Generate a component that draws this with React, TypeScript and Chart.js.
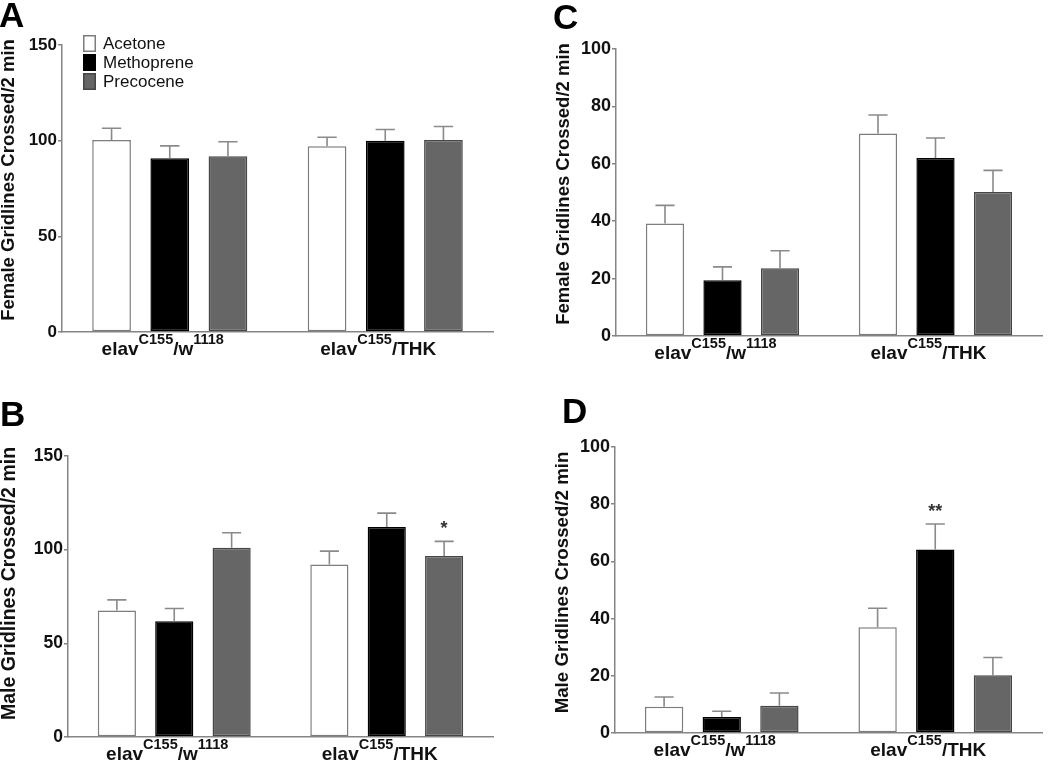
import React, { useEffect, useRef } from 'react';
import { Chart, registerables } from 'chart.js';

Chart.register(...registerables);

const FONT = '"Liberation Sans", Arial, Helvetica, sans-serif';
Chart.defaults.font.family = FONT;

// ---------- data ----------
const seriesNames = ['Acetone', 'Methoprene', 'Precocene'];
const categories = ['elav^{C155}/w^{1118}', 'elav^{C155}/THK'];

const ticks150 = [0, 50, 100, 150];
const ticks100 = [0, 20, 40, 60, 80, 100];

// A: female, 150 scale
const aAcetone = [100.3, 97.1];
const aAcetoneErr = [6.2, 4.7];
const aMethoprene = [90.8, 99.9];
const aMethopreneErr = [6.5, 5.9];
const aPrecocene = [91.9, 100.4];
const aPrecoceneErr = [7.5, 7.0];

// B: male, 150 scale
const bAcetone = [67.5, 92.1];
const bAcetoneErr = [5.7, 7.1];
const bMethoprene = [61.8, 112.1];
const bMethopreneErr = [6.8, 7.4];
const bPrecocene = [101.0, 96.6];
const bPrecoceneErr = [8.0, 7.8];
const bPrecoceneSig = ['', '*'];

// C: female, 100 scale
const cAcetone = [39.2, 70.6];
const cAcetoneErr = [6.3, 6.4];
const cMethoprene = [19.4, 62.0];
const cMethopreneErr = [4.7, 7.0];
const cPrecocene = [23.6, 50.2];
const cPrecoceneErr = [6.1, 7.5];

// D: male, 100 scale
const dAcetone = [9.2, 37.0];
const dAcetoneErr = [3.4, 6.6];
const dMethoprene = [5.6, 64.2];
const dMethopreneErr = [2.0, 8.9];
const dMethopreneSig = ['', '**'];
const dPrecocene = [9.5, 20.2];
const dPrecoceneErr = [4.5, 6.2];

const femaleTitle = 'Female Gridlines Crossed/2 min';
const maleTitle = 'Male Gridlines Crossed/2 min';

// ---------- styles ----------
const seriesFill = ['#ffffff', '#000000', '#666666'];
const seriesBorder = ['#7d7d7d', '#000000', '#464646'];
const AXIS = '#858585';
const ERR = '#8a8a8a';

function parseLabel(s: string) {
  const parts: { t: string; sup: boolean }[] = [];
  const re = /\^\{([^}]*)\}/g;
  let last = 0;
  let m: RegExpExecArray | null;
  while ((m = re.exec(s))) {
    if (m.index > last) parts.push({ t: s.slice(last, m.index), sup: false });
    parts.push({ t: m[1], sup: true });
    last = re.lastIndex;
  }
  if (last < s.length) parts.push({ t: s.slice(last), sup: false });
  return parts;
}

const errorBarPlugin = {
  id: 'errorBars',
  afterDatasetsDraw(chart: any) {
    const ctx = chart.ctx;
    const y = chart.scales.y;
    chart.data.datasets.forEach((ds: any, di: number) => {
      const meta = chart.getDatasetMeta(di);
      meta.data.forEach((bar: any, i: number) => {
        const v = ds.data[i];
        const e = ds.errors[i];
        const x = bar.x;
        const top = y.getPixelForValue(v + e);
        const base = y.getPixelForValue(v);
        const half = bar.width / 4;
        ctx.save();
        ctx.strokeStyle = ERR;
        ctx.lineWidth = 1.6;
        ctx.beginPath();
        ctx.moveTo(x, base);
        ctx.lineTo(x, top);
        ctx.moveTo(x - half, top);
        ctx.lineTo(x + half, top);
        ctx.stroke();
        const s = ds.sig ? ds.sig[i] : '';
        if (s) {
          ctx.fillStyle = '#333';
          ctx.font = `bold 18px ${FONT}`;
          ctx.textAlign = 'center';
          ctx.textBaseline = 'alphabetic';
          ctx.fillText(s, x, top - 7);
        }
        ctx.restore();
      });
    });
  },
};

const insetLegendPlugin = {
  id: 'insetLegend',
  afterDraw(chart: any, _args: any, opts: any) {
    if (!opts || !opts.show) return;
    const ctx = chart.ctx;
    const { left, top } = chart.chartArea;
    const x0 = left + 21;
    let yc = top - 1.5;
    chart.data.datasets.forEach((ds: any) => {
      ctx.save();
      ctx.fillStyle = ds.backgroundColor;
      ctx.fillRect(x0, yc - 8.5, 13, 17);
      ctx.strokeStyle = ds.borderColor;
      ctx.lineWidth = 1.5;
      ctx.strokeRect(x0 + 0.75, yc - 7.75, 11.5, 15.5);
      ctx.fillStyle = '#111';
      ctx.font = `17px ${FONT}`;
      ctx.textAlign = 'left';
      ctx.textBaseline = 'middle';
      ctx.fillText(ds.label, x0 + 20, yc + 0.5);
      ctx.restore();
      yc += 19;
    });
  },
};

const catLabelPlugin = {
  id: 'catLabels',
  afterDraw(chart: any) {
    const ctx = chart.ctx;
    const xs = chart.scales.x;
    const base = xs.top + 23;
    const mainFont = `bold 19px ${FONT}`;
    const supFont = `bold 14.5px ${FONT}`;
    chart.data.labels.forEach((lab: string, i: number) => {
      const parts = parseLabel(lab);
      ctx.save();
      const widths = parts.map((p) => {
        ctx.font = p.sup ? supFont : mainFont;
        return ctx.measureText(p.t).width;
      });
      const total = widths.reduce((a, b) => a + b, 0);
      let x = xs.getPixelForValue(i) - 7 - total / 2;
      ctx.fillStyle = '#111';
      ctx.textAlign = 'left';
      ctx.textBaseline = 'alphabetic';
      parts.forEach((p, k) => {
        ctx.font = p.sup ? supFont : mainFont;
        ctx.fillText(p.t, x, p.sup ? base - 11.5 : base);
        x += widths[k];
      });
      ctx.restore();
    });
  },
};

const yTitlePlugin = {
  id: 'yTitle',
  afterDraw(chart: any, _args: any, opts: any) {
    if (!opts || !opts.text) return;
    const ctx = chart.ctx;
    const { top, bottom } = chart.chartArea;
    ctx.save();
    ctx.translate(opts.x, (top + bottom) / 2 + opts.dy);
    ctx.rotate(-Math.PI / 2);
    ctx.fillStyle = '#111';
    ctx.font = `bold ${opts.size}px ${FONT}`;
    ctx.textAlign = 'center';
    ctx.textBaseline = 'middle';
    ctx.fillText(opts.text, 0, 0);
    ctx.restore();
  },
};

type PanelCfg = {
  left: number; top: number; w: number; h: number;
  padTop: number; padRight: number; yBox: number; xBox: number;
  ticks: number[]; tickSize: number;
  title: string; titleSize: number; titleX: number; titleDy: number;
  legend: boolean;
  values: number[][]; errors: number[][]; sig: (string[] | undefined)[];
};

const panels: PanelCfg[] = [
  {
    left: 0, top: 0, w: 520, h: 380, padTop: 45, padRight: 27, yBox: 62, xBox: 48,
    ticks: ticks150, tickSize: 17, title: femaleTitle, titleSize: 18.5, titleX: 9, titleDy: -8.5,
    legend: true,
    values: [aAcetone, aMethoprene, aPrecocene],
    errors: [aAcetoneErr, aMethopreneErr, aPrecoceneErr],
    sig: [undefined, undefined, undefined],
  },
  {
    left: 0, top: 380, w: 520, h: 380, padTop: 76, padRight: 27, yBox: 68, xBox: 23,
    ticks: ticks150, tickSize: 17.5, title: maleTitle, titleSize: 19.5, titleX: 10, titleDy: -13,
    legend: false,
    values: [bAcetone, bMethoprene, bPrecocene],
    errors: [bAcetoneErr, bMethopreneErr, bPrecoceneErr],
    sig: [undefined, undefined, bPrecoceneSig],
  },
  {
    left: 520, top: 0, w: 530, h: 380, padTop: 49, padRight: 8, yBox: 96, xBox: 44,
    ticks: ticks100, tickSize: 18, title: femaleTitle, titleSize: 18.5, titleX: 43.5, titleDy: -8.5,
    legend: false,
    values: [cAcetone, cMethoprene, cPrecocene],
    errors: [cAcetoneErr, cMethopreneErr, cPrecoceneErr],
    sig: [undefined, undefined, undefined],
  },
  {
    left: 520, top: 380, w: 530, h: 380, padTop: 67, padRight: 8, yBox: 95, xBox: 27,
    ticks: ticks100, tickSize: 18, title: maleTitle, titleSize: 18.7, titleX: 42.5, titleDy: -7.5,
    legend: false,
    values: [dAcetone, dMethoprene, dPrecocene],
    errors: [dAcetoneErr, dMethopreneErr, dPrecoceneErr],
    sig: [undefined, dMethopreneSig, undefined],
  },
];

const panelLetters = [
  { t: 'A', left: -1, top: -3 },
  { t: 'B', left: 0, top: 396 },
  { t: 'C', left: 553, top: -1 },
  { t: 'D', left: 562, top: 393 },
];

function Panel({ cfg }: { cfg: PanelCfg }) {
  const ref = useRef<HTMLCanvasElement>(null);
  useEffect(() => {
    const chart = new Chart(ref.current as HTMLCanvasElement, {
      type: 'bar',
      data: {
        labels: categories,
        datasets: cfg.values.map((vals, k) => ({
          label: seriesNames[k],
          data: vals,
          errors: cfg.errors[k],
          sig: cfg.sig[k],
          backgroundColor: seriesFill[k],
          borderColor: seriesBorder[k],
          borderWidth: 1.5,
          borderSkipped: false,
          categoryPercentage: 0.81,
          barPercentage: 0.665,
        })) as any,
      },
      options: {
        responsive: false,
        animation: false,
        devicePixelRatio: 1,
        layout: { padding: { top: cfg.padTop, right: cfg.padRight, left: 0, bottom: 0 } },
        plugins: {
          legend: { display: false },
          tooltip: { enabled: false },
          insetLegend: { show: cfg.legend },
          yTitle: { text: cfg.title, size: cfg.titleSize, x: cfg.titleX, dy: cfg.titleDy },
        } as any,
        scales: {
          x: {
            type: 'category',
            offset: true,
            grid: { display: false },
            border: { display: true, color: AXIS, width: 1.5 },
            ticks: { display: false },
            afterFit: (s: any) => { s.height = cfg.xBox; },
          },
          y: {
            min: 0,
            max: cfg.ticks[cfg.ticks.length - 1],
            afterBuildTicks: (s: any) => { s.ticks = cfg.ticks.map((v) => ({ value: v })); },
            grid: { drawOnChartArea: false, drawTicks: true, tickLength: 4, color: AXIS, lineWidth: 1.5 },
            border: { display: true, color: AXIS, width: 1.5 },
            ticks: { color: '#111', font: { size: cfg.tickSize, weight: 'bold', family: FONT }, padding: 1 },
            afterFit: (s: any) => { s.width = cfg.yBox; },
          },
        } as any,
      },
      plugins: [errorBarPlugin, insetLegendPlugin, catLabelPlugin, yTitlePlugin],
    });
    return () => chart.destroy();
  }, []);
  return (
    <canvas
      ref={ref}
      width={cfg.w}
      height={cfg.h}
      style={{ position: 'absolute', left: cfg.left, top: cfg.top, width: cfg.w, height: cfg.h }}
    />
  );
}

export default function App() {
  return (
    <div style={{ position: 'fixed', left: 0, top: 0, width: 1050, height: 760, background: '#fff', overflow: 'hidden' }}>
      {panels.map((p, i) => (
        <Panel key={i} cfg={p} />
      ))}
      {panelLetters.map((l) => (
        <div
          key={l.t}
          style={{
            position: 'absolute', left: l.left, top: l.top, fontFamily: FONT, fontWeight: 'bold',
            fontSize: 35, lineHeight: '35px', color: '#000',
          }}
        >
          {l.t}
        </div>
      ))}
    </div>
  );
}
